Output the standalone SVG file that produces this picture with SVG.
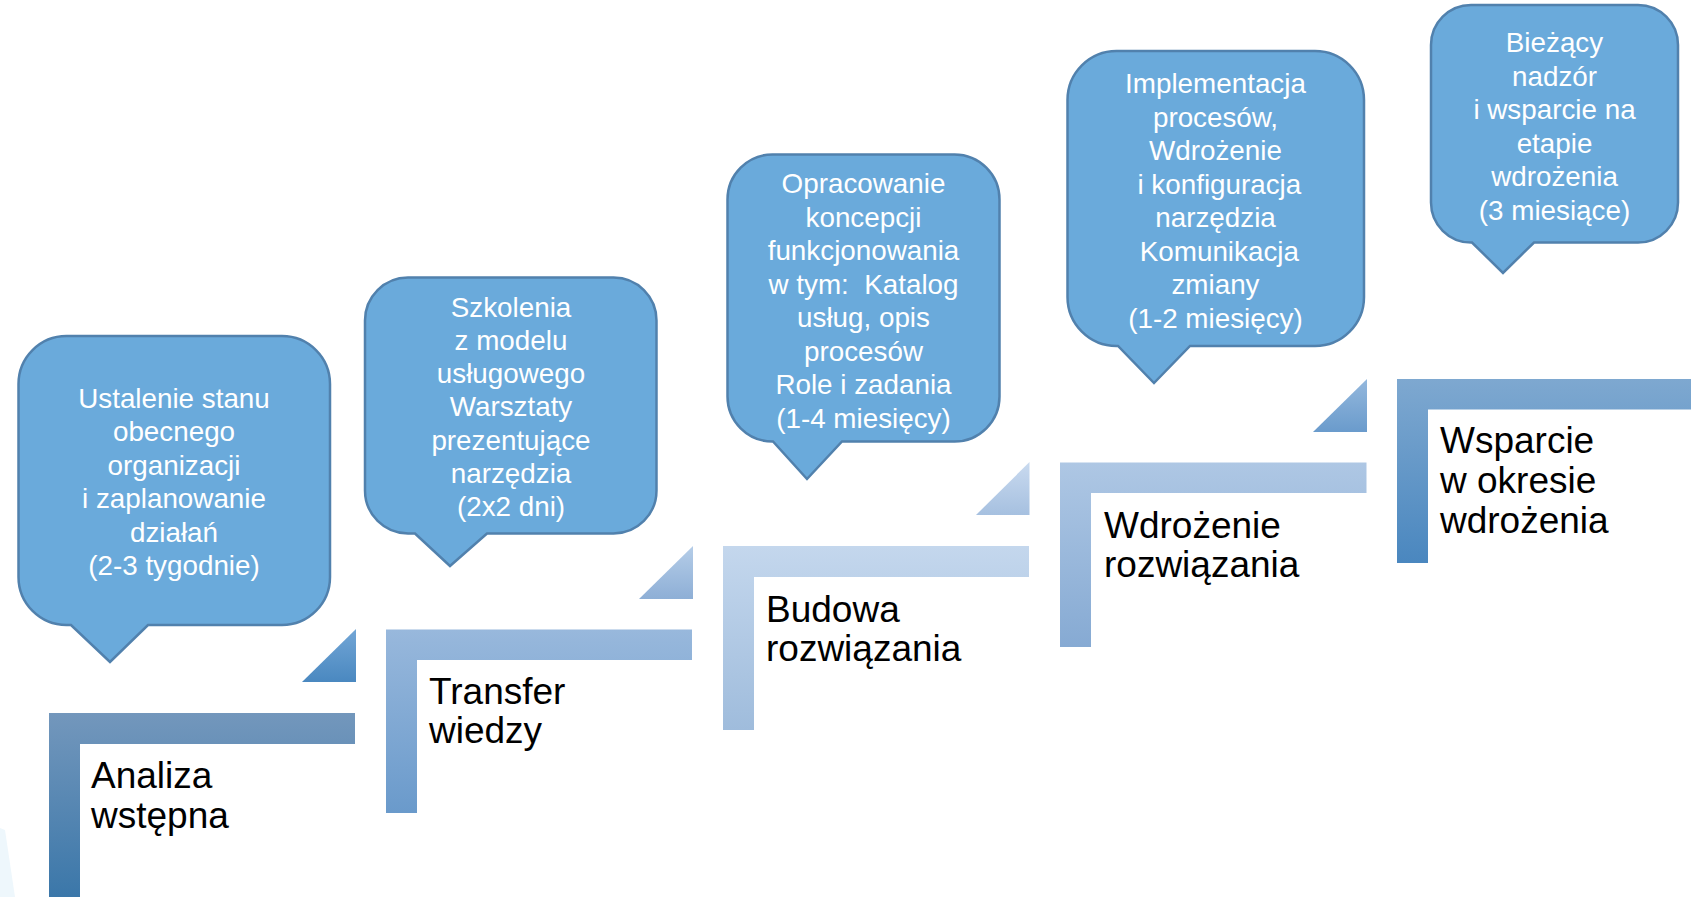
<svg xmlns="http://www.w3.org/2000/svg" width="1691" height="897" viewBox="0 0 1691 897">
<style>
.bub{fill:#6aaadb;stroke:#5181ad;stroke-width:2.5}
.bt{font-family:"Liberation Sans",Arial,sans-serif;font-size:27.8px;fill:#ffffff;text-anchor:middle;white-space:pre}
.lt{font-family:"Liberation Sans",Arial,sans-serif;font-size:37px;fill:#000000}
</style>
<defs>
<linearGradient id="g1" x1="0" y1="0" x2="0" y2="1"><stop offset="0" stop-color="#7397bc"/><stop offset="1" stop-color="#3b77a9"/></linearGradient>
<linearGradient id="g2" x1="0" y1="0" x2="0" y2="1"><stop offset="0" stop-color="#98b8dc"/><stop offset="1" stop-color="#6a9acb"/></linearGradient>
<linearGradient id="g3" x1="0" y1="0" x2="0" y2="1"><stop offset="0" stop-color="#c4d7ed"/><stop offset="1" stop-color="#9fbcdc"/></linearGradient>
<linearGradient id="g4" x1="0" y1="0" x2="0" y2="1"><stop offset="0" stop-color="#aec7e4"/><stop offset="1" stop-color="#86aad3"/></linearGradient>
<linearGradient id="g5" x1="0" y1="0" x2="0" y2="1"><stop offset="0" stop-color="#7ea8d0"/><stop offset="1" stop-color="#4a87bf"/></linearGradient>
<linearGradient id="t1" x1="0" y1="0" x2="0" y2="1"><stop offset="0" stop-color="#72a6d6"/><stop offset="1" stop-color="#4a88c0"/></linearGradient>
<linearGradient id="t2" x1="0" y1="0" x2="0" y2="1"><stop offset="0" stop-color="#b5cde8"/><stop offset="1" stop-color="#8eafd6"/></linearGradient>
<linearGradient id="t3" x1="0" y1="0" x2="0" y2="1"><stop offset="0" stop-color="#c9daef"/><stop offset="1" stop-color="#a6c0e0"/></linearGradient>
<linearGradient id="t4" x1="0" y1="0" x2="0" y2="1"><stop offset="0" stop-color="#94b8dd"/><stop offset="1" stop-color="#6a9bcc"/></linearGradient>
</defs>
<rect width="1691" height="897" fill="#ffffff"/>
<path d="M0,828 L5,830 L15,897 L0,897 Z" fill="#eef7fc"/>

<g id="step1">
<path d="M49,713 H355 V744 H80 V897 H49 Z" fill="url(#g1)"/>
<path d="M356,629 V682 H302 Z" fill="url(#t1)"/>
<text class="lt" x="91" y="788">Analiza</text>
<text class="lt" x="91" y="828">wstępna</text>
</g>
<g id="step2">
<path d="M386,629.5 H692 V660 H417 V813 H386 Z" fill="url(#g2)"/>
<path d="M693,546 V599 H639 Z" fill="url(#t2)"/>
<text class="lt" x="429" y="704">Transfer</text>
<text class="lt" x="429" y="743">wiedzy</text>
</g>
<g id="step3">
<path d="M723,546 H1029 V577 H754 V730 H723 Z" fill="url(#g3)"/>
<path d="M1029.5,462 V515 H976 Z" fill="url(#t3)"/>
<text class="lt" x="766" y="622">Budowa</text>
<text class="lt" x="766" y="661">rozwiązania</text>
</g>
<g id="step4">
<path d="M1060,462.5 H1366.5 V493 H1091 V647 H1060 Z" fill="url(#g4)"/>
<path d="M1367,379 V432 H1313 Z" fill="url(#t4)"/>
<text class="lt" x="1104" y="538">Wdrożenie</text>
<text class="lt" x="1104" y="577">rozwiązania</text>
</g>
<g id="step5">
<path d="M1397,379 H1691 V409.5 H1428 V563 H1397 Z" fill="url(#g5)"/>
<text class="lt" x="1440" y="453">Wsparcie</text>
<text class="lt" x="1440" y="493">w okresie</text>
<text class="lt" x="1440" y="533">wdrożenia</text>
</g>

<g id="callout1">
<path class="bub" d="M66.5,336 H282 A48,48 0 0 1 330,384 V577 A48,48 0 0 1 282,625 H148 L110,662 L71,625 H66.5 A48,48 0 0 1 18.5,577 V384 A48,48 0 0 1 66.5,336 Z"/>
<text class="bt" x="174" y="407.5">Ustalenie stanu</text>
<text class="bt" x="174" y="441">obecnego</text>
<text class="bt" x="174" y="474.5">organizacji</text>
<text class="bt" x="174" y="508">i zaplanowanie</text>
<text class="bt" x="174" y="541.5">działań</text>
<text class="bt" x="174" y="575">(2-3 tygodnie)</text>
</g>
<g id="callout2">
<path class="bub" d="M408,277.5 H613.5 A43,43 0 0 1 656.5,320.5 V490.5 A43,43 0 0 1 613.5,533.5 H487 L450,566 L415,533.5 H408 A43,43 0 0 1 365,490.5 V320.5 A43,43 0 0 1 408,277.5 Z"/>
<text class="bt" x="511" y="316.5">Szkolenia</text>
<text class="bt" x="511" y="349.8">z modelu</text>
<text class="bt" x="511" y="383.1">usługowego</text>
<text class="bt" x="511" y="416.4">Warsztaty</text>
<text class="bt" x="511" y="449.7">prezentujące</text>
<text class="bt" x="511" y="483">narzędzia</text>
<text class="bt" x="511" y="516.3">(2x2 dni)</text>
</g>
<g id="callout3">
<path class="bub" d="M772.5,154.5 H954.5 A45,45 0 0 1 999.5,199.5 V396.5 A45,45 0 0 1 954.5,441.5 H842 L807,479 L773,441.5 H772.5 A45,45 0 0 1 727.5,396.5 V199.5 A45,45 0 0 1 772.5,154.5 Z"/>
<text class="bt" x="863.5" y="193">Opracowanie</text>
<text class="bt" x="863.5" y="226.5">koncepcji</text>
<text class="bt" x="863.5" y="260">funkcjonowania</text>
<text class="bt" x="863.5" y="293.5">w tym:  Katalog</text>
<text class="bt" x="863.5" y="327">usług, opis</text>
<text class="bt" x="863.5" y="360.5">procesów</text>
<text class="bt" x="863.5" y="394">Role i zadania</text>
<text class="bt" x="863.5" y="427.5">(1-4 miesięcy)</text>
</g>
<g id="callout4">
<path class="bub" d="M1116.5,51 H1315 A49,49 0 0 1 1364,100 V297 A49,49 0 0 1 1315,346 H1190 L1154,383 L1118,346 H1116.5 A49,49 0 0 1 1067.5,297 V100 A49,49 0 0 1 1116.5,51 Z"/>
<text class="bt" x="1215.5" y="93">Implementacja</text>
<text class="bt" x="1215.5" y="126.5">procesów,</text>
<text class="bt" x="1215.5" y="160">Wdrożenie</text>
<text class="bt" x="1215.5" y="193.5"> i konfiguracja</text>
<text class="bt" x="1215.5" y="227">narzędzia</text>
<text class="bt" x="1215.5" y="260.5"> Komunikacja</text>
<text class="bt" x="1215.5" y="294">zmiany</text>
<text class="bt" x="1215.5" y="327.5">(1-2 miesięcy)</text>
</g>
<g id="callout5">
<path class="bub" d="M1471,5 H1638 A40,40 0 0 1 1678,45 V202.5 A40,40 0 0 1 1638,242.5 H1534 L1503,273 L1472,242.5 H1471 A40,40 0 0 1 1431,202.5 V45 A40,40 0 0 1 1471,5 Z"/>
<text class="bt" x="1554.5" y="52">Bieżący</text>
<text class="bt" x="1554.5" y="85.5">nadzór</text>
<text class="bt" x="1554.5" y="119">i wsparcie na</text>
<text class="bt" x="1554.5" y="152.5">etapie</text>
<text class="bt" x="1554.5" y="186">wdrożenia</text>
<text class="bt" x="1554.5" y="219.5">(3 miesiące)</text>
</g>
<g id="connectors"></g>
</svg>
